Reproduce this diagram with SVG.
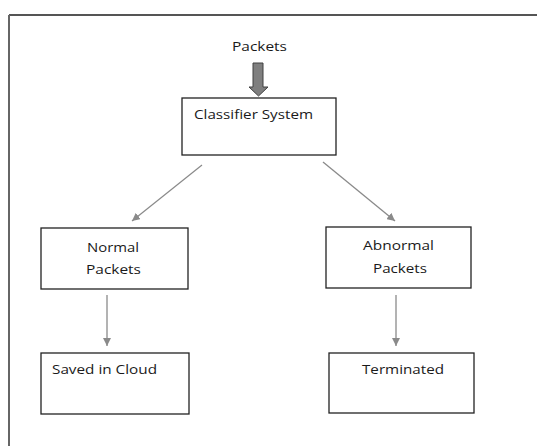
<svg xmlns="http://www.w3.org/2000/svg" width="537" height="446" viewBox="0 0 537 446">
<style>
.box{fill:#fff;stroke:#222;stroke-width:1.3}
.lbl{font-family:"Open Sans","Liberation Sans",sans-serif;font-size:13px;fill:#1a1a1a}
.con{stroke:#8a8a8a;stroke-width:1.3;fill:none;marker-end:url(#ah)}
</style>
<defs>
<marker id="ah" viewBox="0 0 10 10" refX="10" refY="5" markerWidth="8" markerHeight="8" markerUnits="userSpaceOnUse" orient="auto">
<path d="M0,0 L10,5 L0,10 z" fill="#8a8a8a"/>
</marker>
</defs>
<rect width="537" height="446" fill="#fff"/>
<g id="frame">
<line x1="9" y1="15" x2="537" y2="15" stroke="#555" stroke-width="2"/>
<line x1="9" y1="15" x2="9" y2="446" stroke="#666" stroke-width="2"/>
</g>
<g id="input">
<text class="lbl" x="259.5" y="51" text-anchor="middle" textLength="55" lengthAdjust="spacingAndGlyphs">Packets</text>
<polygon points="253,63 263,63 263,87 268,87 258.5,96 249,87 253,87" fill="#7f7f7f" stroke="#404040" stroke-width="1"/>
</g>
<g id="connectors">
<line class="con" x1="202" y1="165" x2="132" y2="221"/>
<line class="con" x1="323" y1="162" x2="395" y2="221"/>
<line class="con" x1="107" y1="295" x2="107" y2="346"/>
<line class="con" x1="396" y1="295" x2="396" y2="346"/>
</g>
<g id="classifier">
<rect class="box" x="182" y="98" width="154" height="57"/>
<text class="lbl" x="194" y="119" textLength="119" lengthAdjust="spacingAndGlyphs">Classifier System</text>
</g>
<g id="normal">
<rect class="box" x="41" y="228" width="147" height="61"/>
<text class="lbl" x="113" y="252" text-anchor="middle" textLength="52" lengthAdjust="spacingAndGlyphs">Normal</text>
<text class="lbl" x="113.5" y="274" text-anchor="middle" textLength="55" lengthAdjust="spacingAndGlyphs">Packets</text>
</g>
<g id="abnormal">
<rect class="box" x="326" y="227" width="145" height="61"/>
<text class="lbl" x="398.5" y="250" text-anchor="middle" textLength="71" lengthAdjust="spacingAndGlyphs">Abnormal</text>
<text class="lbl" x="400" y="273" text-anchor="middle" textLength="54" lengthAdjust="spacingAndGlyphs">Packets</text>
</g>
<g id="saved">
<rect class="box" x="41" y="353" width="148" height="61"/>
<text class="lbl" x="52" y="374" textLength="105" lengthAdjust="spacingAndGlyphs">Saved in Cloud</text>
</g>
<g id="terminated">
<rect class="box" x="329" y="353" width="145" height="60"/>
<text class="lbl" x="362" y="374" textLength="82" lengthAdjust="spacingAndGlyphs">Terminated</text>
</g>
</svg>
